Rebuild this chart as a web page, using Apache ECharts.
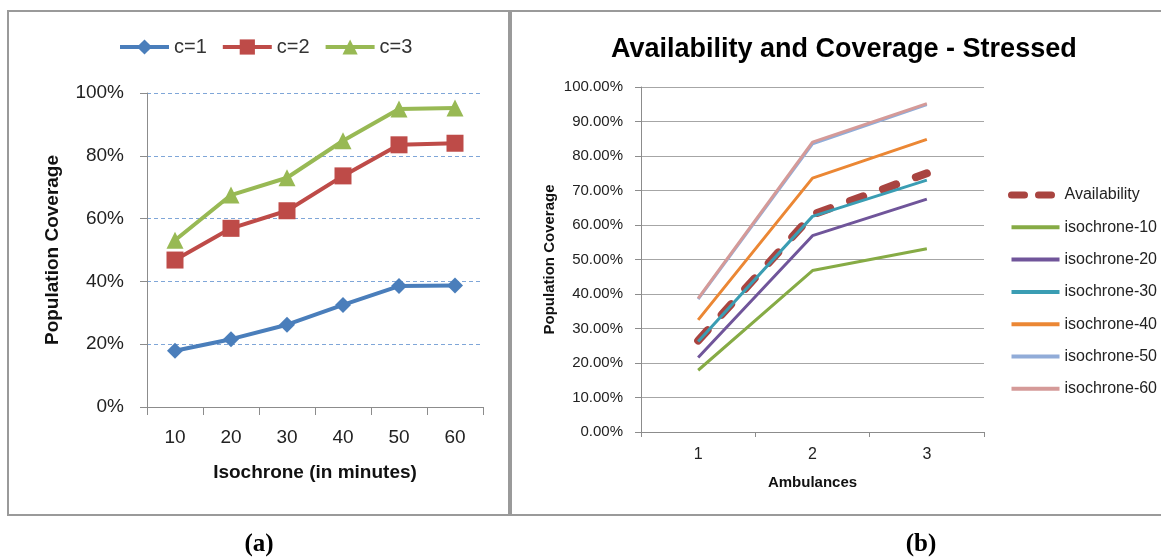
<!DOCTYPE html>
<html>
<head>
<meta charset="utf-8">
<script src="https://cdn.jsdelivr.net/npm/echarts@6/dist/echarts.min.js"></script>
<style>
  html, body { margin: 0; padding: 0; background: #fff; }
  #chart { width: 1161px; height: 558px; }
</style>
</head>
<body>
<div id="chart"></div>
<script>
// (a) coverage by isochrone, one line per c
const isochrones = ["10", "20", "30", "40", "50", "60"];
const c1 = [17.9, 21.6, 26.2, 32.5, 38.5, 38.7];
const c2 = [46.8, 56.9, 62.5, 73.6, 83.5, 84.0];
const c3 = [53.1, 67.5, 73.0, 84.8, 94.9, 95.2];

// (b) availability and coverage vs ambulances
const ambulances = ["1", "2", "3"];
const availability = [26.5, 63.0, 75.0];
const isoNames = ["isochrone-10", "isochrone-20", "isochrone-30", "isochrone-40", "isochrone-50", "isochrone-60"];
const isoColors = ["#86AB45", "#70559A", "#3A9DB3", "#EB8734", "#91ACD8", "#D59A98"];

const font = "'Liberation Sans', Arial, sans-serif";
const axisGray = "#8C8C8C";
const availColor = "#A94440";

const chart = echarts.init(document.getElementById("chart"));

// isochrone-k line = value at column k for c=1,2,3
const isoSeries = isoNames.map((name, i) => ({
  name: name,
  type: "line",
  xAxisIndex: 1,
  yAxisIndex: 1,
  data: [c1[i], c2[i], c3[i]],
  symbol: "none",
  lineStyle: { width: 3, color: isoColors[i] },
  itemStyle: { color: isoColors[i] },
}));

const option = {
  animation: false,
  textStyle: { fontFamily: font },
  title: {
    text: "Availability and Coverage - Stressed",
    left: 606,
    top: 31,
    textStyle: { fontFamily: font, fontSize: 27, fontWeight: "bold", color: "#000" },
  },
  legend: [
    {
      data: ["c=1", "c=2", "c=3"],
      left: 113,
      top: 32,
      itemWidth: 49,
      itemHeight: 19,
      itemGap: 14,
      lineStyle: { width: 4 },
      textStyle: { fontFamily: font, fontSize: 20, color: "#333" },
    },
    {
      data: [
        { name: "Availability", lineStyle: { width: 7, type: [13, 14], cap: "round" } },
      ].concat(isoNames.map((n) => ({ name: n }))),
      orient: "vertical",
      left: 1003,
      top: 182,
      itemWidth: 48,
      itemHeight: 14,
      itemGap: 16.3,
      itemStyle: { opacity: 0 },
      lineStyle: { width: 4 },
      textStyle: { fontFamily: font, fontSize: 16, lineHeight: 16, color: "#222" },
    },
  ],
  grid: [
    { left: 147, top: 93, width: 336, height: 314 },
    { left: 641, top: 87, width: 343, height: 345 },
  ],
  xAxis: [
    {
      gridIndex: 0,
      type: "category",
      data: isochrones,
      boundaryGap: true,
      axisLine: { lineStyle: { color: axisGray, width: 1 } },
      axisTick: { show: true, length: 8, interval: 0, lineStyle: { color: axisGray } },
      axisLabel: { fontSize: 19, color: "#222", margin: 21, fontFamily: font },
      name: "Isochrone (in minutes)",
      nameLocation: "middle",
      nameGap: 56,
      nameTextStyle: { fontSize: 19, fontWeight: "bold", color: "#111", fontFamily: font },
    },
    {
      gridIndex: 1,
      type: "category",
      data: ambulances,
      boundaryGap: true,
      axisLine: { lineStyle: { color: axisGray, width: 1 } },
      axisTick: { show: true, length: 5, interval: 0, lineStyle: { color: axisGray } },
      axisLabel: { fontSize: 16, color: "#222", margin: 15, fontFamily: font },
      name: "Ambulances",
      nameLocation: "middle",
      nameGap: 43,
      nameTextStyle: { fontSize: 15, fontWeight: "bold", color: "#111", fontFamily: font },
    },
  ],
  yAxis: [
    {
      gridIndex: 0,
      type: "value",
      min: 0,
      max: 100,
      interval: 20,
      axisLine: { show: true, lineStyle: { color: axisGray, width: 1 } },
      axisTick: { show: true, length: 7, lineStyle: { color: axisGray } },
      axisLabel: { formatter: "{value}%", fontSize: 19, color: "#222", margin: 23, fontFamily: font },
      splitLine: { show: true, lineStyle: { color: "#7FA6D8", type: [4, 3], width: 1 } },
      name: "Population Coverage",
      nameLocation: "middle",
      nameGap: 85,
      nameTextStyle: { fontSize: 19, fontWeight: "bold", color: "#111", fontFamily: font },
    },
    {
      gridIndex: 1,
      type: "value",
      min: 0,
      max: 100,
      interval: 10,
      axisLine: { show: true, lineStyle: { color: axisGray, width: 1 } },
      axisTick: { show: true, length: 6, lineStyle: { color: axisGray } },
      axisLabel: {
        formatter: (v) => v.toFixed(2) + "%",
        fontSize: 15,
        color: "#222",
        margin: 18,
        fontFamily: font,
      },
      splitLine: { show: true, lineStyle: { color: "#A6A6A6", width: 1 } },
      name: "Population Coverage",
      nameLocation: "middle",
      nameGap: 84,
      nameTextStyle: { fontSize: 15, fontWeight: "bold", color: "#111", fontFamily: font },
    },
  ],
  series: [
    {
      name: "c=1",
      type: "line",
      data: c1,
      symbol: "diamond",
      symbolSize: 16,
      lineStyle: { width: 4, color: "#4A7EBB" },
      itemStyle: { color: "#4A7EBB" },
    },
    {
      name: "c=2",
      type: "line",
      data: c2,
      symbol: "rect",
      symbolSize: 17,
      lineStyle: { width: 4, color: "#BE4B48" },
      itemStyle: { color: "#BE4B48" },
    },
    {
      name: "c=3",
      type: "line",
      data: c3,
      symbol: "triangle",
      symbolSize: 17,
      lineStyle: { width: 4, color: "#98B954" },
      itemStyle: { color: "#98B954" },
    },
    {
      name: "Availability",
      type: "line",
      xAxisIndex: 1,
      yAxisIndex: 1,
      data: availability,
      symbol: "none",
      lineStyle: { width: 8, color: availColor, type: [14, 21], cap: "round" },
      itemStyle: { color: availColor },
    },
  ].concat(isoSeries),
  graphic: [
    {
      type: "rect",
      shape: { x: 8, y: 11, width: 501, height: 504 },
      style: { fill: null, stroke: "#9A9A9A", lineWidth: 2 },
      silent: true,
    },
    {
      type: "rect",
      shape: { x: 511, y: 11, width: 660, height: 504 },
      style: { fill: null, stroke: "#9A9A9A", lineWidth: 2 },
      silent: true,
    },
    {
      type: "text",
      x: 259,
      y: 545,
      style: {
        text: "(a)",
        font: "bold 25px 'Liberation Serif', 'Times New Roman', serif",
        fill: "#000",
        textAlign: "center",
        textVerticalAlign: "middle",
      },
    },
    {
      type: "text",
      x: 921,
      y: 545,
      style: {
        text: "(b)",
        font: "bold 25px 'Liberation Serif', 'Times New Roman', serif",
        fill: "#000",
        textAlign: "center",
        textVerticalAlign: "middle",
      },
    },
  ],
};

chart.setOption(option);
</script>
</body>
</html>
